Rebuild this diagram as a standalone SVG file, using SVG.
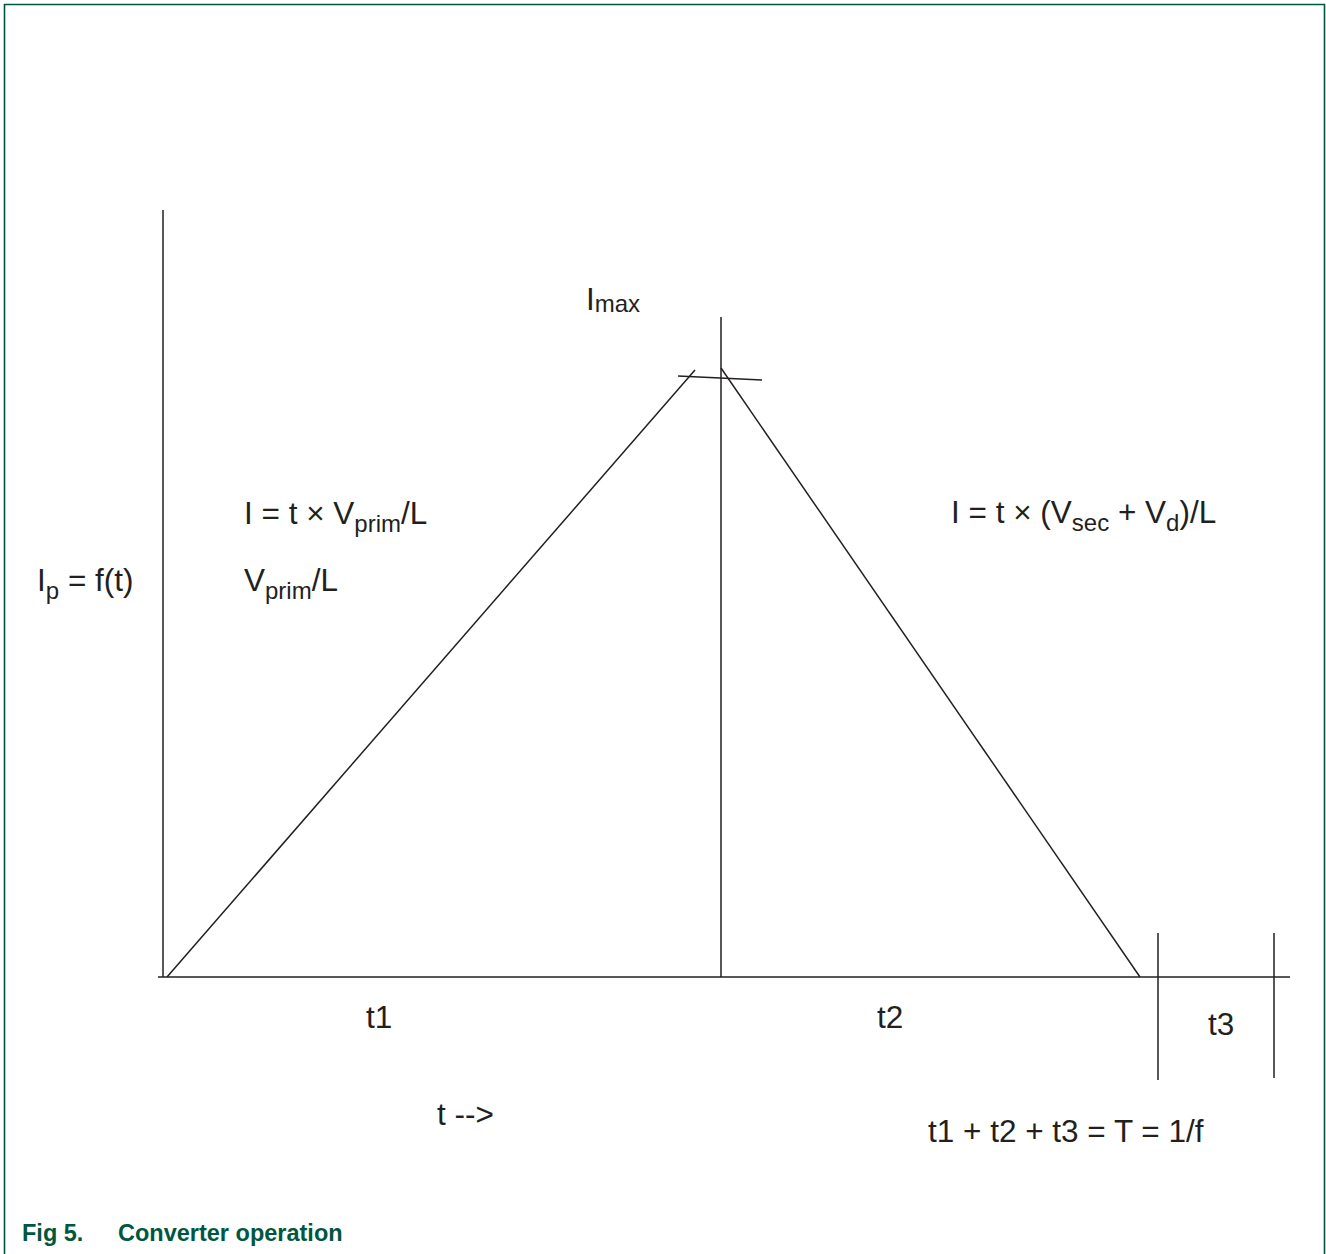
<svg xmlns="http://www.w3.org/2000/svg" width="1326" height="1254" viewBox="0 0 1326 1254">
<style>
.ln{stroke:#231f20;stroke-width:1.5;fill:none}
.t{font-family:"Liberation Sans",Arial,sans-serif;font-size:31.5px;fill:#231f20}
.s{font-size:24px}
.cap{font-family:"Liberation Sans",Arial,sans-serif;font-size:23.5px;font-weight:bold;fill:#00573f}
</style>
<rect x="0" y="0" width="1326" height="1254" fill="#ffffff"/>
<path d="M4.5 1254 V4.5 H1324.5 V1254" fill="none" stroke="#00573f" stroke-width="1.6"/>
<g id="connectors">
<line class="ln" x1="163" y1="210" x2="163" y2="977"/>
<line class="ln" x1="158" y1="977" x2="1290" y2="977"/>
<line class="ln" x1="167" y1="977" x2="695" y2="370"/>
<line class="ln" x1="721" y1="368" x2="1140" y2="977"/>
<line class="ln" x1="721" y1="317" x2="721" y2="977"/>
<line class="ln" x1="678" y1="376" x2="762" y2="380"/>
<line class="ln" x1="1158" y1="933" x2="1158" y2="1080"/>
<line class="ln" x1="1274" y1="933" x2="1274" y2="1078"/>
</g>
<g id="label-imax"><text class="t" x="586" y="310">I<tspan class="s" dy="2">max</tspan></text></g>
<g id="label-eq1"><text class="t" x="244" y="524">I = t × V<tspan class="s" dy="8">prim</tspan><tspan dy="-8">/L</tspan></text></g>
<g id="label-slope"><text class="t" x="244" y="591">V<tspan class="s" dy="8">prim</tspan><tspan dy="-8">/L</tspan></text></g>
<g id="label-ip"><text class="t" x="37" y="591">I<tspan class="s" dy="8">p</tspan><tspan dy="-8"> = f(t)</tspan></text></g>
<g id="label-eq2"><text class="t" x="951" y="523">I = t × (V<tspan class="s" dy="8">sec</tspan><tspan dy="-8"> + V</tspan><tspan class="s" dy="8">d</tspan><tspan dy="-8">)/L</tspan></text></g>
<g id="label-t1"><text class="t" x="366" y="1028">t1</text></g>
<g id="label-t2"><text class="t" x="877" y="1028">t2</text></g>
<g id="label-t3"><text class="t" x="1208" y="1035">t3</text></g>
<g id="label-tarrow"><text class="t" x="437" y="1125">t --&gt;</text></g>
<g id="label-period"><text class="t" x="928" y="1142">t1 + t2 + t3 = T = 1/f</text></g>
<g id="caption"><text class="cap" x="22" y="1241">Fig 5.</text><text class="cap" x="118" y="1241">Converter operation</text></g>
</svg>
